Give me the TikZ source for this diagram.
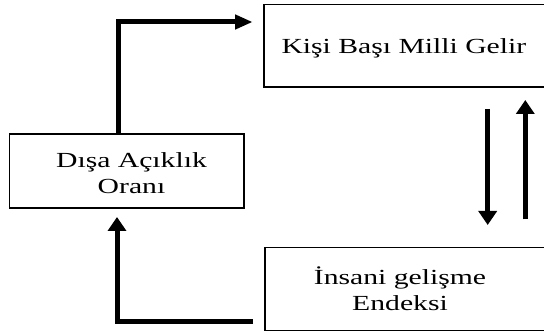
\documentclass[tikz,border=0pt]{standalone}
\usepackage{fontspec}
\setmainfont{Liberation Serif}[FakeStretch=1.38]
\usetikzlibrary{arrows.meta}
\begin{document}
\begin{tikzpicture}[x=1pt,y=-1pt,
  box/.style={draw=black,line width=1.2pt,inner sep=0pt},
  txt/.style={font=\fontsize{21.5}{26}\selectfont,align=center,inner sep=0pt,anchor=base},
  fatv/.style={line width=5pt,-{Triangle[length=14pt,width=18pt]}},
  fath/.style={line width=5pt,-{Triangle[length=17.7pt,width=14pt]}}]
\useasboundingbox (0,0) rectangle (544,334);
% boxes
\node[box,minimum width=282pt,minimum height=82.7pt] (kisi) at (405,45.7) {};
\node[box,minimum width=234.7pt,minimum height=74pt] (dis) at (126.7,171) {};
\node[box,minimum width=281pt,minimum height=83.4pt] (ins) at (405.5,289) {};
% texts
\node[txt] (kisit) at (403.9,54) {Kişi Başı Milli Gelir};
\node[txt] (dist) at (131.5,193.3) {Dışa Açıklık\\Oranı};
\node[txt] (inst) at (400,310.7) {İnsani gelişme\\Endeksi};
% connector ends
\coordinate (a1s) at (118,134);
\coordinate (a1e) at (252.7,22);
\coordinate (a2s) at (253,321);
\coordinate (a2e) at (117,217);
\coordinate (a3s) at (487.7,109);
\coordinate (a3e) at (487.7,225);
\coordinate (a4s) at (525.3,219.3);
\coordinate (a4e) at (525.3,100);
% connectors
\draw[fath] (a1s) |- (a1e);
\draw[fatv] (a2s) -| (a2e);
\draw[fatv] (a3s) -- (a3e);
\draw[fatv] (a4s) -- (a4e);
\end{tikzpicture}
\end{document}
